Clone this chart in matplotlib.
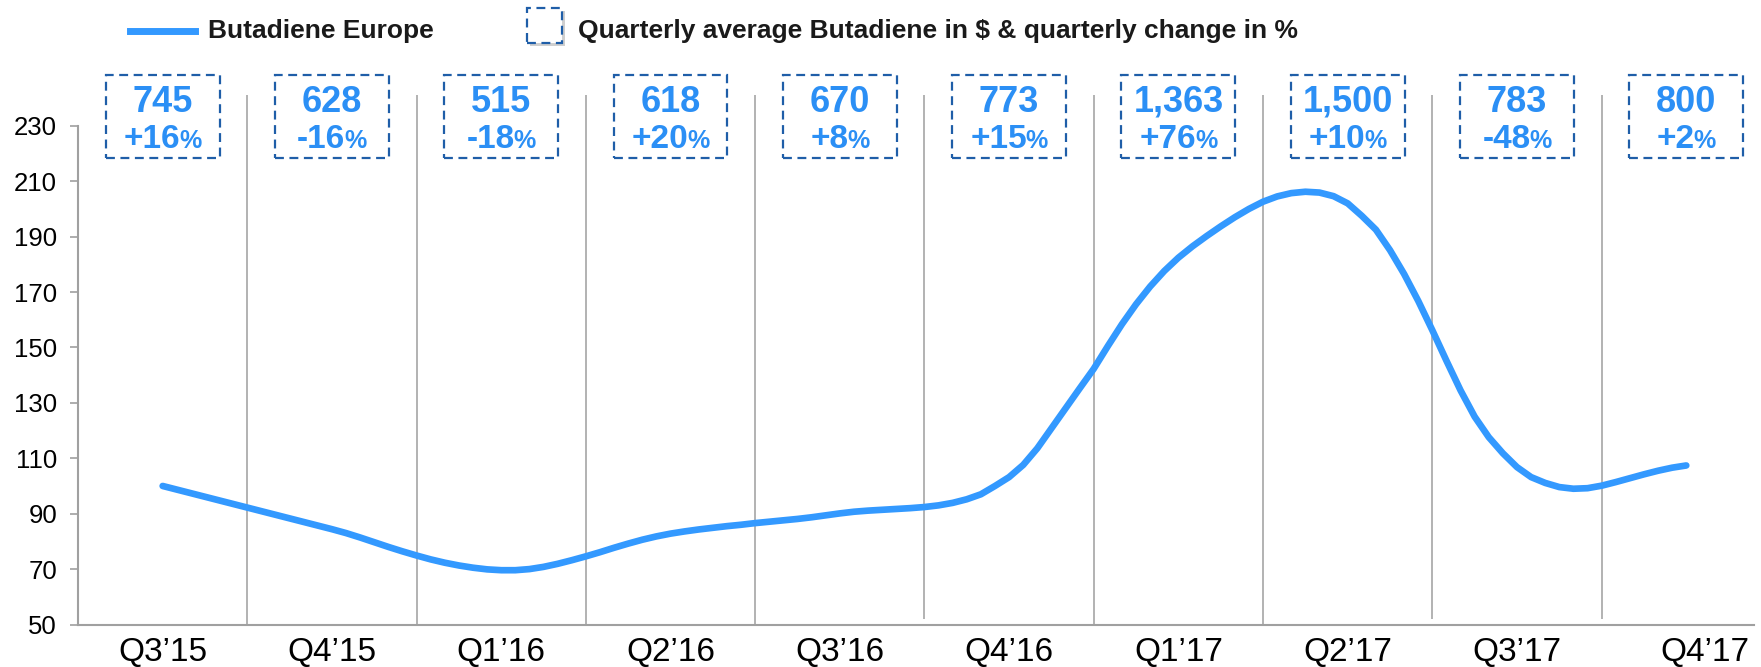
import numpy as np
import matplotlib.pyplot as plt
from matplotlib.patches import Rectangle
from matplotlib.lines import Line2D
from matplotlib import transforms

plt.rcParams['font.family'] = ['Liberation Sans', 'DejaVu Sans']

quarters = ['Q3’15', 'Q4’15', 'Q1’16', 'Q2’16', 'Q3’16',
            'Q4’16', 'Q1’17', 'Q2’17', 'Q3’17', 'Q4’17']
avg_price = ['745', '628', '515', '618', '670', '773', '1,363', '1,500', '783', '800']
qoq_change = ['+16', '-16', '-18', '+20', '+8', '+15', '+76', '+10', '-48', '+2']

# Butadiene Europe index, 12 readings per quarter from mid Q3'15 to mid Q4'17
index_values = [
    100.0, 98.7, 97.4, 96.1, 94.8, 93.5, 92.2, 90.9, 89.6, 88.3, 87.0, 85.7,
    84.4, 83.0, 81.4, 79.7, 78.0, 76.4, 74.9, 73.5, 72.3, 71.3, 70.5, 69.9,
    69.6, 69.6, 70.0, 70.8, 71.9, 73.2, 74.6, 76.1, 77.7, 79.2, 80.6, 81.8,
    82.8, 83.6, 84.3, 84.9, 85.5, 86.0, 86.6, 87.1, 87.6, 88.1, 88.7, 89.4,
    90.1, 90.7, 91.1, 91.4, 91.7, 92.0, 92.4, 93.0, 93.9, 95.2, 97.0, 100.0,
    103.2, 107.6, 113.6, 120.8, 128.0, 135.2, 142.3, 150.5, 158.4, 165.6, 172.0, 177.6,
    182.4, 186.5, 190.2, 193.7, 197.0, 200.0, 202.6, 204.5, 205.7, 206.2, 205.9, 204.6,
    202.0, 197.5, 192.5, 185.1, 176.5, 166.8, 156.2, 145.2, 134.5, 125.0, 117.6, 111.8,
    106.8, 103.2, 101.1, 99.6, 99.0, 99.2, 100.1, 101.4, 102.8, 104.2, 105.5, 106.6,
    107.4,
]

LINE_BLUE = '#3399FF'
TEXT_BLUE = '#2B8FF5'
BOX_BLUE = '#1F5EA8'
GRID_GREY = '#A6A6A6'

W, H = 1761, 667
fig = plt.figure(figsize=(W / 100, H / 100), dpi=100)
ax = fig.add_axes([78 / W, (H - 624.5) / H, (1754 - 78) / W, (624.5 - 125.8) / H])

x = np.arange(len(index_values)) / 12
ax.plot(x, index_values, color=LINE_BLUE, lw=4.8, solid_capstyle='round',
        solid_joinstyle='round', zorder=3)

# quarter separators, a few stop just short of the axis
short = {4, 7, 8}
for i in range(len(quarters) - 1):
    ax.vlines(i + 0.5, 52 if i in short else 50, 241, color=GRID_GREY, lw=1.2,
              clip_on=False, zorder=1)

ax.set_xlim(-0.5, 9.4)
ax.set_ylim(50, 230)
ax.set_yticks(range(50, 231, 20))
ax.set_xticks(range(len(quarters)))
ax.set_xticklabels(quarters)

for s in ['top', 'right']:
    ax.spines[s].set_visible(False)
for s in ['left', 'bottom']:
    ax.spines[s].set_color('#A0A0A0')
    ax.spines[s].set_linewidth(1.5)

ax.tick_params(axis='y', length=6, width=1.2, color='#A0A0A0', labelsize=18.5, pad=9)
ax.tick_params(axis='x', length=0, labelsize=24, pad=9)

# last label sits a bit to the right
last = ax.get_xticklabels()[-1]
last.set_transform(last.get_transform() + transforms.ScaledTranslation(0.19, 0, fig.dpi_scale_trans))

# quarterly average boxes
bw = 0.673
for i, p in enumerate(avg_price):
    ax.add_patch(Rectangle((i - bw / 2, 218.4), bw, 30, fill=False, ec=BOX_BLUE,
                           lw=1.6, ls=(0, (4, 2.5)), clip_on=False, zorder=2))
    ax.text(i, 235.1, p, ha='center', va='baseline', fontsize=26, weight='bold',
            color=TEXT_BLUE, clip_on=False)

fig.canvas.draw()
renderer = fig.canvas.get_renderer()
for i, c in enumerate(qoq_change):
    t1 = ax.text(i, 222, c, ha='left', va='baseline', fontsize=24, weight='bold',
                 color=TEXT_BLUE, clip_on=False)
    t2 = ax.text(i, 222, '%', ha='left', va='baseline', fontsize=18, weight='bold',
                 color=TEXT_BLUE, clip_on=False)
    w1 = t1.get_window_extent(renderer).width
    w2 = t2.get_window_extent(renderer).width
    gap = -1
    start = -(w1 + w2 + gap) / 2
    t1.set_transform(ax.transData + transforms.ScaledTranslation(start / 100, 0, fig.dpi_scale_trans))
    t2.set_transform(ax.transData + transforms.ScaledTranslation((start + w1 + gap) / 100, 0, fig.dpi_scale_trans))

# legend
fig.add_artist(Line2D([129.5 / W, 195 / W], [(H - 30.7) / H] * 2, color=LINE_BLUE, lw=5,
                      transform=fig.transFigure))
fig.text(208.5 / W, (H - 31) / H, 'Butadiene Europe', ha='left', va='center',
         fontsize=19, weight='bold', color='#1A1A1A')
fig.add_artist(Rectangle(((527 + 3) / W, (H - 43 - 3) / H), 35 / W, 35 / H, fc='#B0B0B0',
                         ec='none', alpha=0.6, transform=fig.transFigure))
fig.add_artist(Rectangle((527 / W, (H - 43) / H), 35 / W, 35 / H, fc='white', ec=BOX_BLUE,
                         lw=1.6, ls=(0, (4, 2.5)), transform=fig.transFigure))
fig.text(578 / W, (H - 31) / H, 'Quarterly average Butadiene in $ & quarterly change in %',
         ha='left', va='center', fontsize=19, weight='bold', color='#1A1A1A')

fig.savefig('out.png', dpi=100)
